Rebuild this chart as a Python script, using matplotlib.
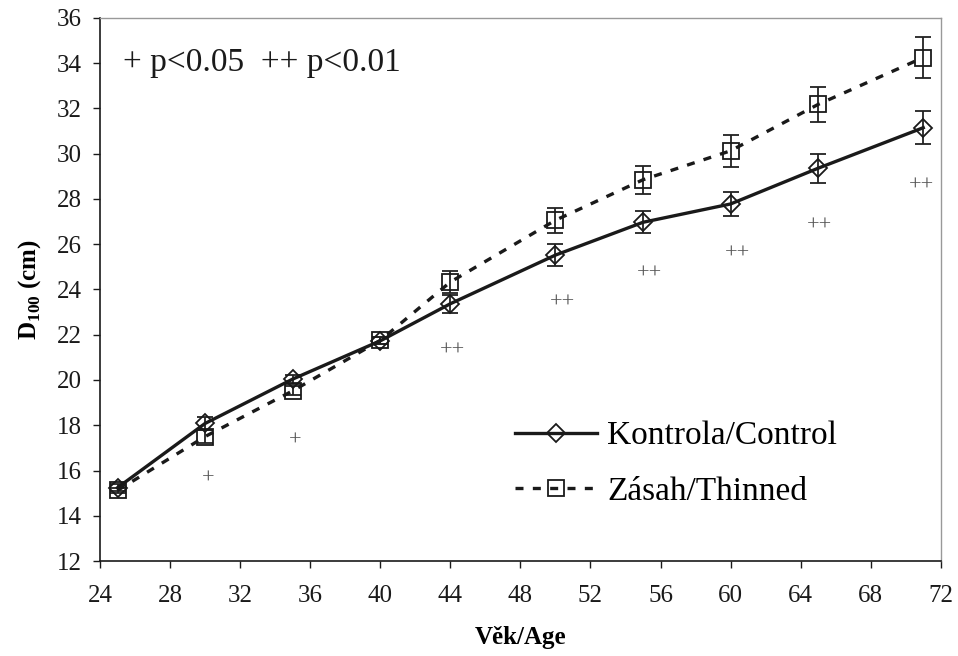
import matplotlib.pyplot as plt

plt.rcParams["font.family"] = ["Liberation Serif", "DejaVu Serif"]
plt.rcParams["mathtext.fontset"] = "custom"
plt.rcParams["mathtext.rm"] = "Liberation Serif"
plt.rcParams["mathtext.bf"] = "Liberation Serif:bold"

age = [25, 30, 35, 40, 44, 50, 55, 60, 65, 71]
control = [15.24, 18.08, 20.04, 21.73, 23.37, 25.52, 26.97, 27.78, 29.36, 31.15]
control_err = [0.15, 0.28, 0.2, 0.15, 0.4, 0.48, 0.48, 0.55, 0.64, 0.73]
thinned = [15.12, 17.5, 19.52, 21.75, 24.33, 27.06, 28.85, 30.13, 32.18, 34.25]
thinned_err = [0.12, 0.3, 0.2, 0.15, 0.5, 0.56, 0.62, 0.7, 0.77, 0.9]

sig_age = [30.15, 35.15, 44.1, 50.4, 55.4, 60.4, 65.1, 70.9]
sig_y = [15.75, 17.4, 21.4, 23.52, 24.81, 25.69, 26.91, 28.66]
sig_txt = ["+", "+", "++", "++", "++", "++", "++", "++"]

fig = plt.figure(figsize=(9.58, 6.56), dpi=100)
ax = fig.add_axes([0.1044, 0.1448, 0.8776, 0.8278])

ax.errorbar(age, control, yerr=control_err, fmt="none", ecolor="#222222",
            elinewidth=1.3, capsize=6, capthick=1.3, zorder=2)
ax.errorbar(age, thinned, yerr=thinned_err, fmt="none", ecolor="#222222",
            elinewidth=1.3, capsize=6, capthick=1.3, zorder=2)
ax.plot(age, control, color="#1a1a1a", lw=2.4, marker="D", ms=9,
        mfc="none", mec="#1a1a1a", mew=1.3, label="Kontrola/Control", zorder=3)
ax.plot(age, thinned, color="#1a1a1a", lw=2.4, linestyle=(0, (2.4, 2.8)),
        marker="s", ms=11, mfc="none", mec="#1a1a1a", mew=1.3,
        label="Zásah/Thinned", zorder=3)

for x, y, t in zip(sig_age, sig_y, sig_txt):
    ax.text(x, y, t, ha="center", va="center_baseline", fontsize=16,
            color="#555555")

ax.text(0.027, 0.917, "+ p<0.05  ++ p<0.01", transform=ax.transAxes,
        ha="left", va="center", fontsize=24, color="#1a1a1a")

ax.set_xlim(24, 72)
ax.set_ylim(12, 36)
ax.set_xticks(range(24, 73, 4))
ax.set_yticks(range(12, 37, 2))
ax.tick_params(labelsize=18, length=5, width=1, direction="out",
               colors="#1a1a1a", pad=8)
ax.tick_params(axis="x", pad=12)

for side in ["top", "right"]:
    ax.spines[side].set_color("#999999")
    ax.spines[side].set_linewidth(1.0)
for side in ["left", "bottom"]:
    ax.spines[side].set_color("#1a1a1a")
    ax.spines[side].set_linewidth(1.2)

ax.set_xlabel("Věk/Age", fontsize=18, fontweight="bold", labelpad=14)
ax.set_ylabel(r"D$_{\mathbf{100}}$ (cm)", fontsize=18, fontweight="bold",
              labelpad=10)

leg = ax.legend(loc="center left", bbox_to_anchor=(0.494, 0.179), frameon=False,
                fontsize=24, handlelength=2.45, handletextpad=0.3,
                labelspacing=0.75, borderpad=0, borderaxespad=0)

fig.savefig("out.png", dpi=100)
